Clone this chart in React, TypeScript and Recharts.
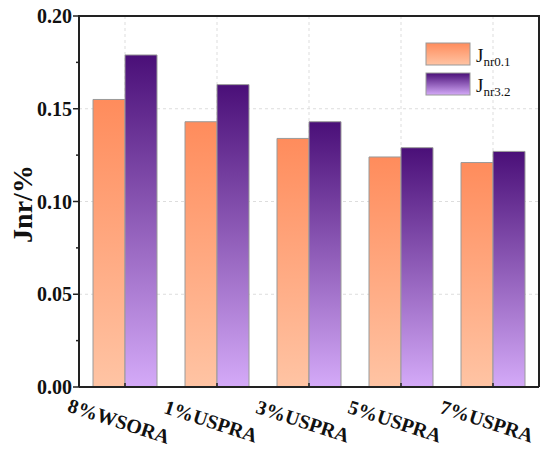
import React from 'react';
import { BarChart, Bar, XAxis, YAxis, CartesianGrid } from 'recharts';

const categories = ['8%WSORA', '1%USPRA', '3%USPRA', '5%USPRA', '7%USPRA'];
const jnr01 = [0.155, 0.143, 0.134, 0.124, 0.121];
const jnr32 = [0.179, 0.163, 0.143, 0.129, 0.127];
const yTicks = [0, 0.025, 0.05, 0.075, 0.1, 0.125, 0.15, 0.175, 0.2];
const majorTicks = [0, 0.05, 0.1, 0.15, 0.2];
const gridValues = [0.05, 0.1, 0.15];
const yMax = 0.2;
const seriesNames = ['nr0.1', 'nr3.2'];

const data = categories.map((c, i) => ({ name: c, a: jnr01[i], b: jnr32[i] }));

const FONT = '"Liberation Serif", "Times New Roman", serif';
const AXIS = '#222';

const YTick = (props: any) => {
  const { x, y, payload } = props;
  const v = payload.value;
  const major = majorTicks.some((m) => Math.abs(m - v) < 1e-9);
  return (
    <g>
      <line x1={x - (major ? 6 : 3)} y1={y} x2={x} y2={y} stroke={AXIS} strokeWidth={1.5} />
      {major && (
        <text x={x - 7} y={y} dy="0.35em" textAnchor="end" fontFamily={FONT} fontWeight="bold" fontSize={20} fill="#111">
          {v.toFixed(2)}
        </text>
      )}
    </g>
  );
};

const XTick = (props: any) => {
  const { x, y, payload } = props;
  const cx = x - 6;
  const cy = y + 34;
  return (
    <g>
      <line x1={x} y1={y} x2={x} y2={y - 4} stroke={AXIS} strokeWidth={1.5} />
      <text
        x={cx}
        y={cy}
        dy="0.35em"
        textAnchor="middle"
        fontFamily={FONT}
        fontWeight="bold"
        fontSize={20}
        fill="#111"
        transform={`rotate(18, ${cx}, ${cy})`}
      >
        {payload.value}
      </text>
    </g>
  );
};

const LegendBox = () => (
  <svg width={110} height={60} style={{ position: 'absolute', left: 425, top: 42, display: 'block' }}>
    <defs>
      <linearGradient id="lgOrange" x1="0" y1="0" x2="0" y2="1">
        <stop offset="0%" stopColor="#FF8C5C" />
        <stop offset="100%" stopColor="#FFC4A4" />
      </linearGradient>
      <linearGradient id="lgPurple" x1="0" y1="0" x2="0" y2="1">
        <stop offset="0%" stopColor="#4A0F78" />
        <stop offset="100%" stopColor="#D4AAF8" />
      </linearGradient>
    </defs>
    <rect x={1} y={1} width={44} height={22} fill="url(#lgOrange)" stroke="#999" strokeWidth={1} />
    <rect x={1} y={31} width={44} height={22} fill="url(#lgPurple)" stroke="#999" strokeWidth={1} />
    <text x={51} y={20} fontFamily={FONT} fontSize={19} fill="#111">
      J<tspan fontSize={13} dy={4}>{seriesNames[0]}</tspan>
    </text>
    <text x={51} y={50} fontFamily={FONT} fontSize={19} fill="#111">
      J<tspan fontSize={13} dy={4}>{seriesNames[1]}</tspan>
    </text>
  </svg>
);

export default function App() {
  return (
    <div style={{ position: 'absolute', left: 0, top: 0, width: 550, height: 451, background: '#fff' }}>
      <BarChart
        width={550}
        height={451}
        data={data}
        margin={{ top: 16, right: 10, left: 0, bottom: 0 }}
        barGap={0}
        barCategoryGap="15%"
      >
        <defs>
          <linearGradient id="gOrange" x1="0" y1="0" x2="0" y2="1">
            <stop offset="0%" stopColor="#FF8C5C" />
            <stop offset="100%" stopColor="#FFC4A4" />
          </linearGradient>
          <linearGradient id="gPurple" x1="0" y1="0" x2="0" y2="1">
            <stop offset="0%" stopColor="#4A0F78" />
            <stop offset="100%" stopColor="#D4AAF8" />
          </linearGradient>
        </defs>
        <CartesianGrid
          horizontal={true}
          vertical={true}
          stroke="#ddd"
          strokeDasharray="3 3"
          horizontalValues={gridValues}
        />
        <XAxis
          dataKey="name"
          height={64}
          tickSize={0}
          tickMargin={0}
          tickLine={false}
          tick={<XTick />}
          axisLine={{ stroke: AXIS, strokeWidth: 2 }}
          interval={0}
        />
        <YAxis
          width={79}
          domain={[0, yMax]}
          ticks={yTicks}
          interval={0}
          tickSize={0}
          tickMargin={0}
          tickLine={false}
          tick={<YTick />}
          axisLine={{ stroke: AXIS, strokeWidth: 2 }}
          allowDataOverflow
          label={{
            value: 'Jnr/%',
            content: () => (
              <text x={22} y={204} transform="rotate(-90, 22, 204)" textAnchor="middle" dominantBaseline="central" fontFamily={FONT} fontWeight="bold" fontSize={28} fill="#111">
                Jnr/%
              </text>
            ),
          }}
        />
        <YAxis yAxisId="right" orientation="right" width={1} domain={[0, yMax]} tick={false} tickLine={false} axisLine={{ stroke: AXIS, strokeWidth: 2 }} />
        <Bar dataKey="a" name="Jnr0.1" fill="url(#gOrange)" stroke="#9a9a9a" strokeWidth={1} barSize={32} isAnimationActive={false} />
        <Bar dataKey="b" name="Jnr3.2" fill="url(#gPurple)" stroke="#9a9a9a" strokeWidth={1} barSize={32} isAnimationActive={false} />
      </BarChart>
      <div style={{ position: 'absolute', left: 78, top: 15, width: 462, height: 2, background: AXIS }} />
      <LegendBox />
    </div>
  );
}
